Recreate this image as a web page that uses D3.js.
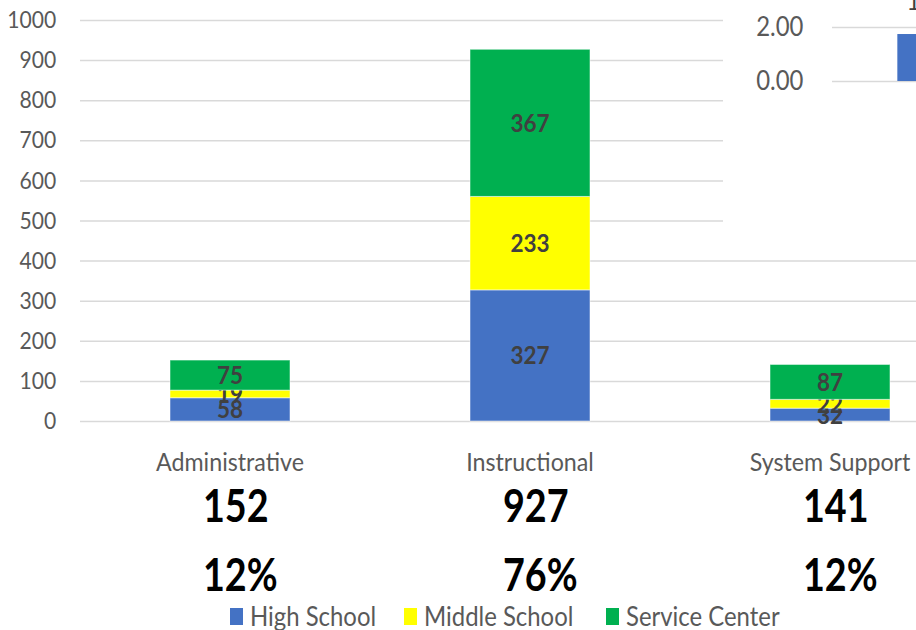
<!DOCTYPE html>
<html>
<head>
<meta charset="utf-8">
<script src="https://cdn.jsdelivr.net/npm/d3@7"></script>
<style>
  body { margin: 0; background: #fff; }
  svg { display: block; font-family: Lato, "Open Sans", sans-serif; }
</style>
</head>
<body>
<div id="chart"></div>
<script>
// chart data
const categories = ["Administrative", "Instructional", "System Support"];
const seriesNames = ["High School", "Middle School", "Service Center"];
const highSchool = [58, 327, 32];
const middleSchool = [19, 233, 22];
const serviceCenter = [75, 367, 87];
const totals = [152, 927, 141];
const shares = ["12%", "76%", "12%"];
const yTicks = [0, 100, 200, 300, 400, 500, 600, 700, 800, 900, 1000];

// partly hidden chart in the top right corner
const insetCategories = ["A"];
const insetValues = [1.74];
const insetTicks = [0, 2];

const colors = ["#4472c4", "#ffff00", "#00b050"];
const W = 916, H = 630;

const svg = d3.select("#chart").append("svg")
  .attr("width", W)
  .attr("height", H);

svg.append("rect").attr("width", W).attr("height", H).attr("fill", "#fff");

// text in the original is narrower and taller than Lato, squeeze it a bit
function squeeze(sel, fx, fy, sx) {
  sel.attr("x", 0).attr("y", 0)
    .attr("transform", (d, i) => "translate(" + fx(d, i) + "," + fy(d, i) + ") scale(" + sx + ",1)");
}

const x = d3.scaleBand()
  .domain(categories)
  .range([80, 980])
  .paddingInner(0.6)
  .paddingOuter(0.3);

const y = d3.scaleLinear()
  .domain([0, 1000])
  .range([421, 20]);

// gridlines + y labels
const yAxis = svg.append("g")
  .attr("transform", "translate(80,0)")
  .call(d3.axisLeft(y).tickValues(yTicks).tickFormat(d3.format("d")).tickSize(-900).tickPadding(27));
yAxis.select(".domain").remove();
yAxis.selectAll("line").attr("stroke", "#d9d9d9").attr("stroke-width", 1.5);
yAxis.selectAll("text")
  .attr("fill", "#595959")
  .attr("font-size", "24px")
  .attr("font-family", "Lato, sans-serif")
  .attr("transform", "scale(0.88,1)");

// stack the series
const rows = categories.map((c, i) => ({
  cat: c,
  "High School": highSchool[i],
  "Middle School": middleSchool[i],
  "Service Center": serviceCenter[i]
}));
const stacked = d3.stack().keys(seriesNames)(rows);

const layer = svg.selectAll(".layer")
  .data(stacked)
  .enter().append("g")
  .attr("class", "layer")
  .attr("fill", (d, i) => colors[i]);

layer.selectAll("rect")
  .data(d => d)
  .enter().append("rect")
  .attr("x", d => x(d.data.cat))
  .attr("width", x.bandwidth())
  .attr("y", d => y(d[1]))
  .attr("height", d => y(d[0]) - y(d[1]))
  .attr("stroke", "#ffffff")
  .attr("stroke-opacity", 0.5)
  .attr("stroke-width", 1);

// value labels in the middle of every segment
layer.selectAll("text")
  .data(d => d.map(v => ({ v: v, key: d.key })))
  .enter().append("text")
  .attr("dy", "0.36em")
  .attr("text-anchor", "middle")
  .attr("font-size", "25px")
  .attr("font-weight", "bold")
  .attr("fill", "#404040")
  .text(d => d.v.data[d.key])
  .call(squeeze, d => x(d.v.data.cat) + x.bandwidth() / 2, d => (y(d.v[0]) + y(d.v[1])) / 2, 0.9);

// category labels, totals and shares under the bars
const under = svg.selectAll(".under")
  .data(categories)
  .enter().append("g")
  .attr("class", "under")
  .attr("transform", d => "translate(" + (x(d) + x.bandwidth() / 2) + ",0)");

under.append("text")
  .attr("text-anchor", "middle")
  .attr("font-size", "25px")
  .attr("fill", "#595959")
  .text(d => d)
  .call(squeeze, () => 0, () => 471, 0.93);

under.append("text")
  .attr("text-anchor", "start")
  .attr("font-size", "46px")
  .attr("font-weight", "bold")
  .attr("fill", "#000")
  .text((d, i) => totals[i])
  .call(squeeze, () => -27, () => 522, 0.82);

under.append("text")
  .attr("text-anchor", "start")
  .attr("font-size", "46px")
  .attr("font-weight", "bold")
  .attr("fill", "#000")
  .text((d, i) => shares[i])
  .call(squeeze, () => -27, () => 591, 0.82);

// legend
const legendX = [230, 404, 606];
const legend = svg.selectAll(".legend")
  .data(seriesNames)
  .enter().append("g")
  .attr("class", "legend")
  .attr("transform", (d, i) => "translate(" + legendX[i] + ",0)");

legend.append("rect")
  .attr("y", 608)
  .attr("width", 13)
  .attr("height", 17)
  .attr("fill", (d, i) => colors[i]);

legend.append("text")
  .attr("font-size", "26px")
  .attr("fill", "#595959")
  .text(d => d)
  .call(squeeze, () => 20, () => 626, 0.92);

// the other chart overlapping the top right corner
const inset = svg.append("g");
inset.append("rect")
  .attr("x", 723).attr("y", 0)
  .attr("width", W - 723).attr("height", 240)
  .attr("fill", "#fff");

const ix = d3.scaleBand()
  .domain(insetCategories)
  .range([832, 1028])
  .padding(0.5);

const iy = d3.scaleLinear()
  .domain([0, 2])
  .range([81, 27]);

const iAxis = inset.append("g")
  .attr("transform", "translate(832,0)")
  .call(d3.axisLeft(iy).tickValues(insetTicks).tickFormat(d3.format(".2f")).tickSize(-200).tickPadding(31));
iAxis.select(".domain").remove();
iAxis.selectAll("line").attr("stroke", "#d9d9d9").attr("stroke-width", 1.5);
iAxis.selectAll("text")
  .attr("fill", "#595959")
  .attr("font-size", "26px")
  .attr("font-family", "Lato, sans-serif")
  .attr("transform", "scale(0.92,1)");

inset.selectAll(".ibar")
  .data(insetValues)
  .enter().append("rect")
  .attr("class", "ibar")
  .attr("x", (d, i) => ix(insetCategories[i]))
  .attr("width", ix.bandwidth())
  .attr("y", d => iy(d))
  .attr("height", d => iy(0) - iy(d))
  .attr("fill", colors[0]);

inset.selectAll(".ilabel")
  .data(insetValues)
  .enter().append("text")
  .attr("class", "ilabel")
  .attr("text-anchor", "middle")
  .attr("font-size", "26px")
  .attr("fill", "#404040")
  .text(d => d.toFixed(2))
  .call(squeeze, (d, i) => ix(insetCategories[i]) + ix.bandwidth() / 2, d => iy(d) - 24, 0.92);
</script>
</body>
</html>
